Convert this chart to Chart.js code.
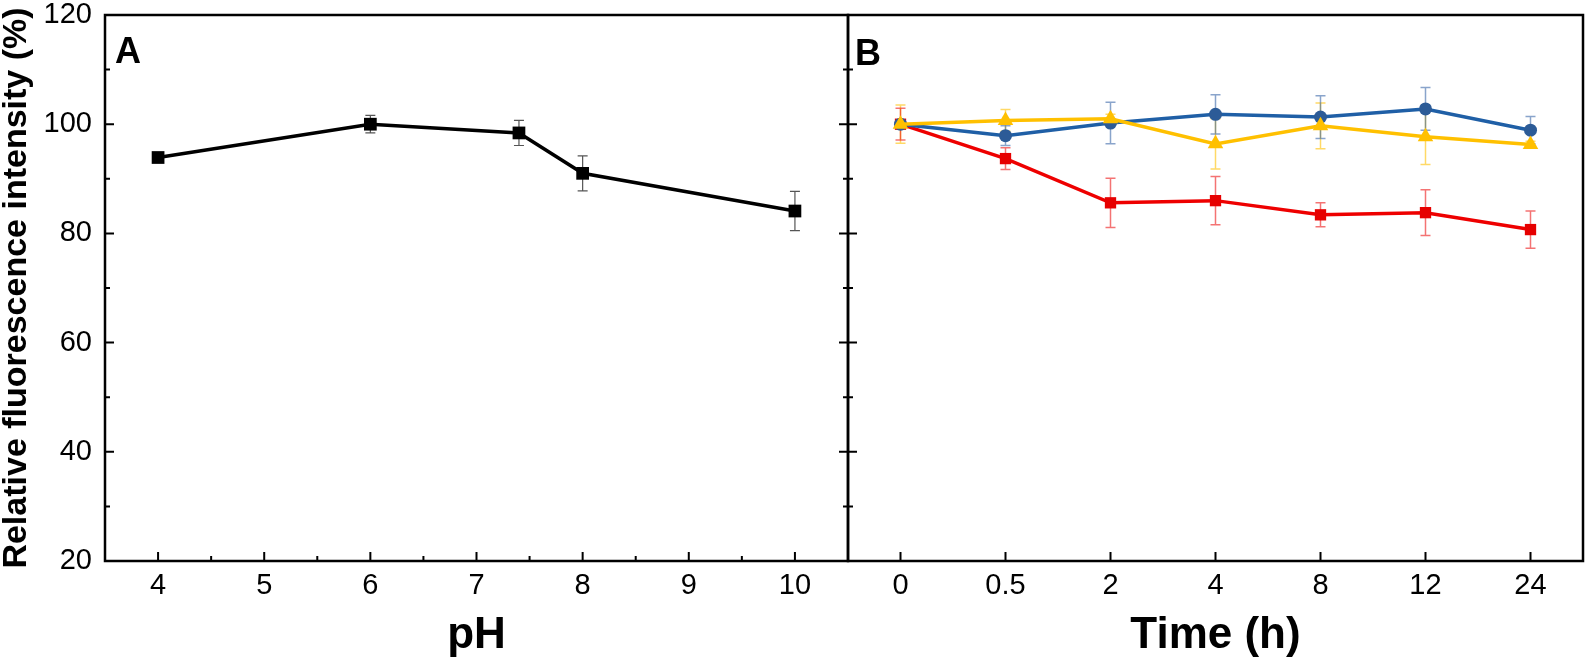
<!DOCTYPE html>
<html lang="en">
<head>
<meta charset="UTF-8">
<title>Relative fluorescence intensity</title>
<script src="https://cdn.jsdelivr.net/npm/chart.js@4.4.0/dist/chart.umd.min.js"></script>
<style>
    html, body { margin: 0; padding: 0; background: #fff; }
    #wrap { position: relative; width: 1592px; height: 658px; }
    #wrap canvas { position: absolute; top: 0; }
    #chartA { left: 0; }
    #chartB { left: 820px; }
</style>
</head>
<body>
<div id="wrap">
    <canvas id="chartA" width="870" height="658"></canvas>
    <canvas id="chartB" width="772" height="658"></canvas>
</div>

<script>
// ---- data ----
const yTicks = [20, 40, 60, 80, 100, 120];
const yMinorTicks = [30, 50, 70, 90, 110];

// panel A: pH
const phTicks = [4, 5, 6, 7, 8, 9, 10];
const phMinorTicks = [4.5, 5.5, 6.5, 7.5, 8.5, 9.5];
const phValues = [4, 6, 7.4, 8, 10];
const phIntensity = [93.9, 100.0, 98.4, 91.0, 84.1];
const phError = [0.4, 1.6, 2.3, 3.2, 3.6];

// panel B: time
const timeLabels = ['0', '0.5', '2', '4', '8', '12', '24'];
const redIntensity = [100.0, 93.7, 85.6, 86.0, 83.4, 83.8, 80.7];
const redError = [2.9, 2.0, 4.5, 4.4, 2.2, 4.2, 3.4];
const blueIntensity = [100.0, 97.9, 100.2, 101.8, 101.3, 102.8, 98.9];
const blueError = [0.8, 1.8, 3.8, 3.6, 3.9, 3.9, 2.5];
const yellowIntensity = [100.0, 100.7, 101.0, 96.4, 99.7, 97.7, 96.3];
const yellowError = [3.5, 2.0, 0.8, 4.6, 4.2, 5.1, 0.6];

const FONT = "'Liberation Sans', Arial, sans-serif";
Chart.defaults.font.family = FONT;
Chart.defaults.color = '#000';

// error bars, drawn under the markers
const errorBars = {
    id: 'errorBars',
    beforeDatasetsDraw(chart) {
        const ctx = chart.ctx;
        const y = chart.scales.y;
        chart.data.datasets.forEach((ds, i) => {
            if (!ds.errors) return;
            const meta = chart.getDatasetMeta(i);
            ctx.save();
            ctx.strokeStyle = ds.errorColor;
            ctx.lineWidth = ds.errorWidth;
            ctx.beginPath();
            meta.data.forEach((pt, j) => {
                const raw = ds.data[j];
                const v = typeof raw === 'object' ? raw.y : raw;
                const e = ds.errors[j];
                const top = y.getPixelForValue(v + e);
                const bot = y.getPixelForValue(v - e);
                const cap = 5;
                ctx.moveTo(pt.x, top); ctx.lineTo(pt.x, bot);
                ctx.moveTo(pt.x - cap, top); ctx.lineTo(pt.x + cap, top);
                ctx.moveTo(pt.x - cap, bot); ctx.lineTo(pt.x + cap, bot);
            });
            ctx.stroke();
            ctx.restore();
        });
    }
};

// box, inward ticks and panel letter
const frame = {
    id: 'frame',
    afterDraw(chart, args, opts) {
        const {ctx, chartArea: a} = chart;
        const x = chart.scales.x, y = chart.scales.y;
        ctx.save();
        ctx.strokeStyle = '#000';
        ctx.lineWidth = 2;
        ctx.beginPath();
        const major = 9, minor = 5;
        opts.xMajor.forEach(v => {
            const px = x.getPixelForValue(v);
            ctx.moveTo(px, a.bottom); ctx.lineTo(px, a.bottom - major);
        });
        opts.xMinor.forEach(v => {
            const px = x.getPixelForValue(v);
            ctx.moveTo(px, a.bottom); ctx.lineTo(px, a.bottom - minor);
        });
        const sides = [];
        if (opts.leftTicks) sides.push([a.left, 1]);
        if (opts.rightTicks) sides.push([a.right, -1]);
        sides.forEach(([sx, dir]) => {
            yTicks.forEach(v => {
                const py = y.getPixelForValue(v);
                ctx.moveTo(sx, py); ctx.lineTo(sx + dir * major, py);
            });
            yMinorTicks.forEach(v => {
                const py = y.getPixelForValue(v);
                ctx.moveTo(sx, py); ctx.lineTo(sx + dir * minor, py);
            });
        });
        ctx.stroke();
        ctx.lineWidth = 2.5;
        ctx.strokeRect(a.left, a.top, a.right - a.left, a.bottom - a.top);

        ctx.fillStyle = '#000';
        ctx.font = 'bold 36px ' + FONT;
        ctx.textBaseline = 'alphabetic';
        ctx.fillText(opts.letter, a.left + opts.letterX, a.top + opts.letterY);
        ctx.restore();
    }
};

function yScale(showLabels, width) {
    return {
        type: 'linear',
        min: 20,
        max: 120,
        afterBuildTicks: s => { s.ticks = yTicks.map(v => ({value: v})); },
        afterFit: s => { s.width = width; s.paddingTop = 0; s.paddingBottom = 0; },
        grid: {display: false, drawTicks: false},
        border: {display: false},
        ticks: {
            display: showLabels,
            padding: 13,
            font: {size: 29, lineHeight: 1},
            color: '#000'
        },
        title: {
            display: showLabels,
            text: 'Relative fluorescence intensity (%)',
            font: {size: 34, weight: 'bold', lineHeight: 1},
            color: '#000',
            padding: 0
        }
    };
}

const xTitle = text => ({
    display: true,
    text: text,
    font: {size: 44, weight: 'bold', lineHeight: 1},
    color: '#000',
    padding: {top: 0, bottom: 0}
});

const fitX = s => { s.height = 97; s.paddingLeft = 0; s.paddingRight = 0; };

const ctxA = document.getElementById('chartA').getContext('2d');
const chartA = new Chart(ctxA, {
    type: 'line',
    data: {
        datasets: [{
            data: phValues.map((v, i) => ({x: v, y: phIntensity[i]})),
            errors: phError,
            errorColor: '#555',
            errorWidth: 1.2,
            borderColor: '#000',
            backgroundColor: '#000',
            borderWidth: 3.5,
            pointStyle: 'rect',
            pointRadius: 9,
            pointBorderWidth: 0,
            tension: 0
        }]
    },
    options: {
        responsive: false,
        animation: false,
        devicePixelRatio: 1,
        layout: {padding: {left: 0, top: 15, right: 22, bottom: 0}},
        plugins: {
            legend: {display: false},
            tooltip: {enabled: false},
            frame: {xMajor: phTicks, xMinor: phMinorTicks, leftTicks: true, rightTicks: true, letter: 'A', letterX: 10, letterY: 48}
        },
        scales: {
            x: {
                type: 'linear',
                min: 3.5,
                max: 10.5,
                afterBuildTicks: s => { s.ticks = phTicks.map(v => ({value: v})); },
                afterFit: fitX,
                grid: {display: false, drawTicks: false},
                border: {display: false},
                ticks: {padding: 10, font: {size: 29, lineHeight: 1}, color: '#000', autoSkip: false, maxRotation: 0},
                title: xTitle('pH')
            },
            y: yScale(true, 105)
        }
    },
    plugins: [errorBars, frame]
});

const ctxB = document.getElementById('chartB').getContext('2d');
const chartB = new Chart(ctxB, {
    type: 'line',
    data: {
        labels: timeLabels,
        datasets: [{
            data: yellowIntensity,
            errors: yellowError,
            errorColor: 'rgba(255, 192, 0, 0.6)',
            errorWidth: 1.5,
            borderColor: '#ffc000',
            backgroundColor: '#ffc000',
            borderWidth: 3.5,
            pointStyle: 'triangle',
            pointRadius: 9,
            pointBorderWidth: 0,
            tension: 0
        }, {
            data: blueIntensity,
            errors: blueError,
            errorColor: 'rgba(40, 90, 160, 0.55)',
            errorWidth: 1.5,
            borderColor: '#1f5fa6',
            backgroundColor: '#2c5b97',
            borderWidth: 3.5,
            pointStyle: 'circle',
            pointRadius: 6.5,
            pointBorderWidth: 0,
            tension: 0
        }, {
            data: redIntensity,
            errors: redError,
            errorColor: 'rgba(235, 0, 0, 0.55)',
            errorWidth: 1.5,
            borderColor: '#ee0000',
            backgroundColor: '#e60000',
            borderWidth: 3.5,
            pointStyle: 'rect',
            pointRadius: 8,
            pointBorderWidth: 0,
            tension: 0
        }]
    },
    options: {
        responsive: false,
        animation: false,
        devicePixelRatio: 1,
        layout: {padding: {left: 0, top: 15, right: 5, bottom: 0}},
        plugins: {
            legend: {display: false},
            tooltip: {enabled: false},
            frame: {xMajor: timeLabels.map((t, i) => i), xMinor: [], leftTicks: true, rightTicks: false, letter: 'B', letterX: 7, letterY: 50}
        },
        scales: {
            x: {
                type: 'category',
                offset: true,
                afterFit: fitX,
                grid: {display: false, drawTicks: false, offset: true},
                border: {display: false},
                ticks: {padding: 10, font: {size: 29, lineHeight: 1}, color: '#000', autoSkip: false, maxRotation: 0},
                title: xTitle('Time (h)')
            },
            y: yScale(false, 28)
        }
    },
    plugins: [errorBars, frame]
});
</script>
</body>
</html>
